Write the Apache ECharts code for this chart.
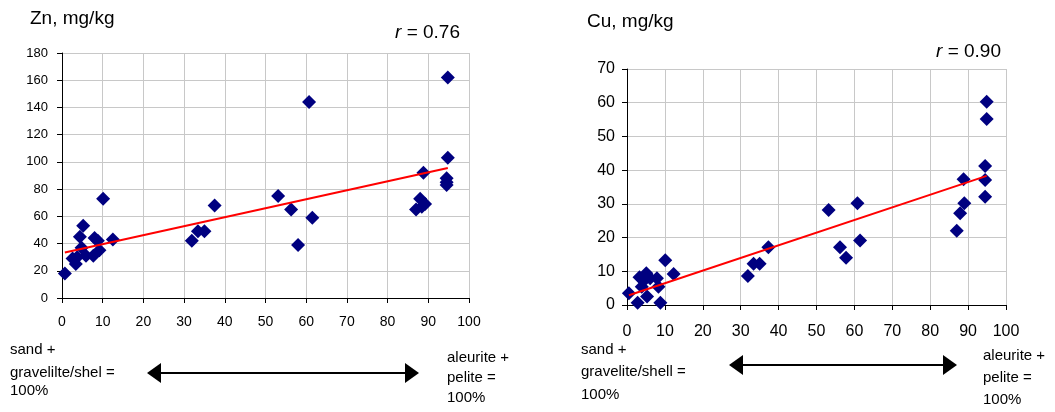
<!DOCTYPE html>
<html>
<head>
<meta charset="utf-8">
<script src="https://cdn.jsdelivr.net/npm/echarts@6/dist/echarts.min.js"></script>
<style>
  html, body { margin: 0; padding: 0; background: #fff; }
  #chart { width: 1055px; height: 412px; }
</style>
</head>
<body>
<div id="chart"></div>
<script>
// fine fraction share (aleurite + pelite, %) vs metal content, mg/kg
const znX = [0.7, 3.4, 2.6, 3.7, 4.8, 4.4, 5.2, 5.9, 7.7, 8.0, 8.8, 9.2, 10.1, 12.5,
  31.9, 33.4, 35.0, 37.5, 53.1, 56.3, 58.0, 60.7, 61.5,
  87.0, 88.0, 88.4, 89.2, 88.8, 94.8, 94.8, 94.5, 94.5, 94.5];
const znY = [18, 25, 29, 30, 37, 45, 53, 31, 31, 44, 42, 35, 73, 43,
  42, 49, 49, 68, 75, 65, 39, 144, 59,
  65, 73, 67, 69, 92, 162, 103, 88, 85, 83];

const cuX = [0.5, 2.8, 3.3, 3.9, 5.1, 4.4, 5.3, 6.1, 7.9, 8.3, 8.8, 10.1, 12.3,
  31.9, 33.4, 35.0, 37.3, 53.2, 56.2, 57.8, 60.8, 61.5,
  87.0, 87.9, 88.8, 89.0, 94.9, 94.9, 94.5, 94.5, 94.5];
const cuY = [3.5, 0.7, 8.2, 5.4, 9.4, 7.2, 2.5, 7.9, 7.9, 5.4, 0.7, 13.3, 9.2,
  8.6, 12.2, 12.2, 17.1, 28.2, 17.1, 14.0, 30.2, 19.1,
  22.0, 27.2, 37.3, 30.2, 60.3, 55.2, 41.2, 37.1, 32.1];

// linear trend: y = a + b*x
const znFit = [33.0, 0.66];
const cuFit = [2.7, 0.375];

const xTicks = [0, 100, 10];
const znTicks = [0, 180, 20];
const cuTicks = [0, 70, 10];

const FONT = 'Liberation Sans, Arial, sans-serif';

function pairs(xs, ys) {
  return xs.map((x, i) => [x, ys[i]]);
}

function trend(xs, fit) {
  const lo = Math.min(...xs), hi = Math.max(...xs);
  return [[lo, fit[0] + fit[1] * lo], [hi, fit[0] + fit[1] * hi]];
}

function axisOf(gridIndex, ticks, fontSize, margin) {
  return {
    type: 'value', gridIndex,
    min: ticks[0], max: ticks[1], interval: ticks[2],
    axisLine: { show: true, onZero: false, lineStyle: { color: '#000', width: 1 } },
    axisTick: { show: true, length: 5, lineStyle: { color: '#000' } },
    axisLabel: { color: '#000', fontSize, fontFamily: FONT, margin },
    splitLine: { show: true, lineStyle: { color: '#c8c8c8', width: 1 } }
  };
}

function scatterOf(idx, data) {
  return {
    type: 'scatter', xAxisIndex: idx, yAxisIndex: idx,
    data, symbol: 'diamond', symbolSize: 14,
    itemStyle: { color: '#000080', opacity: 1 },
    z: 2
  };
}

function lineOf(idx, data) {
  return {
    type: 'line', xAxisIndex: idx, yAxisIndex: idx,
    data, showSymbol: false, symbol: 'none',
    lineStyle: { color: '#ff0000', width: 2 },
    z: 3, silent: true
  };
}

function text(x, y, str, size, align) {
  return {
    type: 'text', x, y,
    style: {
      text: str, fill: '#000', font: size + 'px ' + FONT,
      align: align || 'left', verticalAlign: 'middle',
      rich: { i: { fontStyle: 'italic', fontSize: size, fontFamily: FONT, fill: '#000' } }
    }
  };
}

function arrow(x1, x2, y) {
  const hl = 14, hh = 10;
  return [
    { type: 'line', shape: { x1: x1 + hl, y1: y, x2: x2 - hl, y2: y },
      style: { stroke: '#000', lineWidth: 2 } },
    { type: 'polygon', shape: { points: [[x1, y], [x1 + hl, y - hh], [x1 + hl, y + hh]] },
      style: { fill: '#000' } },
    { type: 'polygon', shape: { points: [[x2, y], [x2 - hl, y - hh], [x2 - hl, y + hh]] },
      style: { fill: '#000' } }
  ];
}

const chart = echarts.init(document.getElementById('chart'), null, { renderer: 'canvas' });

const option = {
  backgroundColor: '#fff',
  animation: false,
  grid: [
    { left: 62, top: 53, width: 407, height: 245 },
    { left: 627, top: 69, width: 379, height: 236 }
  ],
  xAxis: [axisOf(0, xTicks, 14, 17), axisOf(1, xTicks, 16, 19)],
  yAxis: [axisOf(0, znTicks, 13, 14), axisOf(1, cuTicks, 16, 12)],
  series: [
    scatterOf(0, pairs(znX, znY)),
    lineOf(0, trend(znX, znFit)),
    scatterOf(1, pairs(cuX, cuY)),
    lineOf(1, trend(cuX, cuFit))
  ],
  graphic: [
    text(30, 19, 'Zn, mg/kg', 19),
    text(460, 33, '{i|r} = 0.76', 19, 'right'),
    text(587, 22, 'Cu, mg/kg', 19),
    text(1001, 52, '{i|r} = 0.90', 19, 'right'),

    text(10, 350, 'sand +', 15),
    text(10, 373, 'gravelilte/shel =', 15),
    text(10, 391, '100%', 15),
    text(447, 358, 'aleurite +', 15),
    text(447, 378, 'pelite =', 15),
    text(447, 398, '100%', 15),
    ...arrow(147, 419, 373),

    text(581, 350, 'sand +', 15),
    text(581, 372, 'gravelite/shell =', 15),
    text(581, 395, '100%', 15),
    text(983, 356, 'aleurite +', 15),
    text(983, 378, 'pelite =', 15),
    text(983, 400, '100%', 15),
    ...arrow(729, 957, 365)
  ]
};

chart.setOption(option);
window.addEventListener('resize', () => chart.resize());
</script>
</body>
</html>
